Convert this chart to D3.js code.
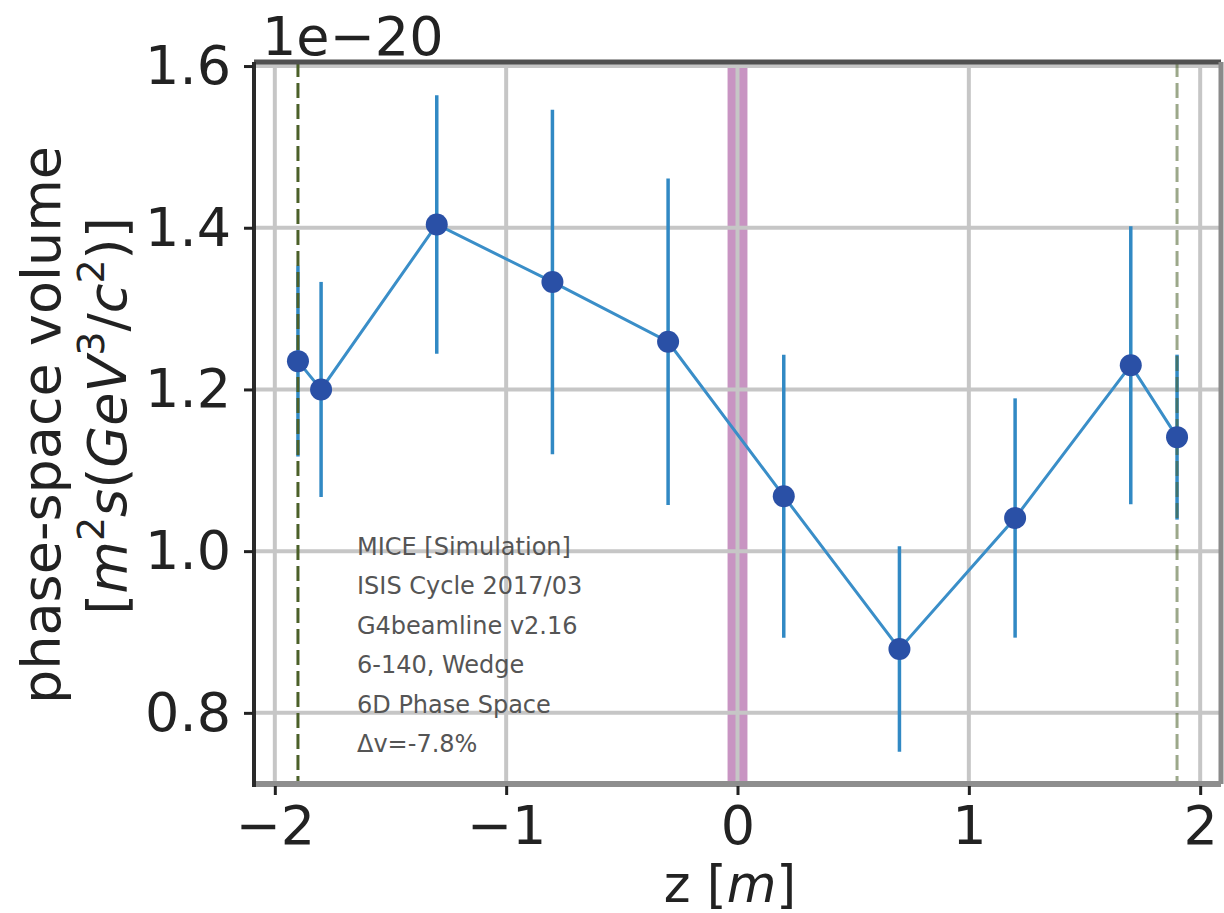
<!DOCTYPE html>
<html>
<head>
<meta charset="utf-8">
<script src="https://cdn.jsdelivr.net/npm/d3@7"></script>
<style>
  body { margin: 0; background: #fff; }
  svg { display: block; font-family: "DejaVu Sans", sans-serif; }
</style>
</head>
<body>
<div id="chart"></div>
<script>
// values are in units of 1e-20 m^2 s (GeV^3/c^2)
const zPos = [-1.9, -1.8, -1.3, -0.8, -0.3, 0.2, 0.7, 1.2, 1.7, 1.9];
const volume = [1.235, 1.200, 1.404, 1.333, 1.259, 1.068, 0.879, 1.041, 1.230, 1.141];
const volumeErr = [0.118, 0.133, 0.160, 0.213, 0.202, 0.175, 0.127, 0.148, 0.172, 0.102];
const xTicks = [-2, -1, 0, 1, 2];
const yTicks = [0.8, 1.0, 1.2, 1.4, 1.6];
const trackerPlanes = [-1.9, 1.9];
const absorberSpan = [-0.043, 0.043];
const infoLines = ["MICE [Simulation]", "ISIS Cycle 2017/03", "G4beamline v2.16",
  "6-140, Wedge", "6D Phase Space", "\u0394v=-7.8%"];

const width = 1224, height = 913;
const margin = { top: 62, right: 3, bottom: 129, left: 254 };

const svg = d3.select("#chart").append("svg")
  .attr("width", width).attr("height", height)
  .attr("viewBox", [0, 0, width, height]);

const x = d3.scaleLinear().domain([-2.09, 2.09]).range([margin.left, width - margin.right]);
const y = d3.scaleLinear().domain([0.712, 1.605]).range([height - margin.bottom, margin.top]);

const points = zPos.map((z, i) => ({ z, v: volume[i], e: volumeErr[i] }));

// absorber band
svg.append("rect")
  .attr("x", x(absorberSpan[0]))
  .attr("y", y.range()[1])
  .attr("width", x(absorberSpan[1]) - x(absorberSpan[0]))
  .attr("height", y.range()[0] - y.range()[1])
  .attr("fill", "#c894c2");

// grid
const grid = svg.append("g").attr("stroke", "#c6c6c6").attr("stroke-width", 4);
grid.selectAll(".gx").data(xTicks).join("line")
  .attr("x1", d => x(d)).attr("x2", d => x(d))
  .attr("y1", y.range()[1]).attr("y2", y.range()[0]);
grid.selectAll(".gy").data(yTicks).join("line")
  .attr("x1", x.range()[0]).attr("x2", x.range()[1])
  .attr("y1", d => y(d)).attr("y2", d => y(d));

// error bars
svg.append("g")
  .selectAll("line")
  .data(points)
  .join("line")
  .attr("x1", d => x(d.z)).attr("x2", d => x(d.z))
  .attr("y1", d => y(d.v - d.e)).attr("y2", d => y(d.v + d.e))
  .attr("stroke", "#3189c4")
  .attr("stroke-width", 3.5);

// tracker reference planes
svg.append("g")
  .selectAll("line")
  .data(trackerPlanes)
  .join("line")
  .attr("x1", d => x(d)).attr("x2", d => x(d))
  .attr("y1", y.range()[1]).attr("y2", y.range()[0])
  .attr("stroke", "#4b6029")
  .attr("stroke-opacity", (d, i) => i === 0 ? 1 : 0.55)
  .attr("stroke-width", 3)
  .attr("stroke-dasharray", "15,6");

// connecting line
svg.append("path")
  .datum(points)
  .attr("fill", "none")
  .attr("stroke", "#3a8ec8")
  .attr("stroke-width", 3)
  .attr("d", d3.line().x(d => x(d.z)).y(d => y(d.v)));

// markers
svg.append("g")
  .selectAll("circle")
  .data(points)
  .join("circle")
  .attr("cx", d => x(d.z)).attr("cy", d => y(d.v))
  .attr("r", 11)
  .attr("fill", "#2a50a6");

// frame
const [x0, x1] = x.range(), [y0, y1] = y.range();
svg.append("line").attr("x1", x0).attr("x2", x1).attr("y1", y1).attr("y2", y1)
  .attr("stroke", "#505050").attr("stroke-width", 5);
svg.append("line").attr("x1", x1).attr("x2", x1).attr("y1", y1).attr("y2", y0)
  .attr("stroke", "#8a8a8a").attr("stroke-width", 5);
svg.append("line").attr("x1", x0).attr("x2", x1).attr("y1", y0).attr("y2", y0)
  .attr("stroke", "#8e8e8e").attr("stroke-width", 6);
svg.append("line").attr("x1", x0).attr("x2", x0).attr("y1", y1).attr("y2", y0 + 3)
  .attr("stroke", "#2a2a2a").attr("stroke-width", 4);

// axes
const xAxis = svg.append("g")
  .attr("transform", `translate(0,${y0 + 2})`)
  .call(d3.axisBottom(x).tickValues(xTicks).tickFormat(d3.format("d")).tickSize(9).tickPadding(11));
const yAxis = svg.append("g")
  .attr("transform", `translate(${x0 - 1},0)`)
  .call(d3.axisLeft(y).tickValues(yTicks).tickFormat(d3.format(".1f")).tickSize(9).tickPadding(13));

[xAxis, yAxis].forEach(g => {
  g.select(".domain").remove();
  g.selectAll(".tick line").attr("stroke", "#222").attr("stroke-width", 3);
  g.selectAll(".tick text").attr("fill", "#222").attr("font-size", 54)
    .attr("font-family", "DejaVu Sans");
});

// offset text
svg.append("text")
  .attr("x", 262).attr("y", 55)
  .attr("font-size", 54).attr("fill", "#222")
  .text("1e\u221220");

// x label
const xl = svg.append("text")
  .attr("x", 730).attr("y", 902)
  .attr("text-anchor", "middle")
  .attr("font-size", 51).attr("fill", "#222");
xl.append("tspan").text("z [");
xl.append("tspan").attr("font-style", "italic").text("m");
xl.append("tspan").text("]");

// y label
svg.append("text")
  .attr("transform", "translate(60,425) rotate(-90)")
  .attr("text-anchor", "middle")
  .attr("font-size", 54).attr("fill", "#222")
  .text("phase-space volume");

const yl = svg.append("text")
  .attr("transform", "translate(126,416) rotate(-90)")
  .attr("text-anchor", "middle")
  .attr("font-size", 54).attr("fill", "#222");
const parts = [
  ["[", "normal", false], ["m", "italic", false], ["2", "normal", true],
  ["s", "italic", false], ["(", "normal", false], ["GeV", "italic", false],
  ["3", "normal", true], ["/", "normal", false], ["c", "italic", false],
  ["2", "normal", true], [")]", "normal", false]
];
let raised = false;
parts.forEach(([t, style, sup]) => {
  const ts = yl.append("tspan").attr("font-style", style).text(t);
  if (sup && !raised) { ts.attr("dy", -22).attr("font-size", 38); raised = true; }
  else if (sup) { ts.attr("font-size", 38); }
  else if (raised) { ts.attr("dy", 22); raised = false; }
});

// info box
svg.append("g")
  .selectAll("text")
  .data(infoLines)
  .join("text")
  .attr("x", 357)
  .attr("y", (d, i) => 555 + i * 39.4)
  .attr("font-size", 24)
  .attr("fill", "#555")
  .text(d => d);
</script>
</body>
</html>
